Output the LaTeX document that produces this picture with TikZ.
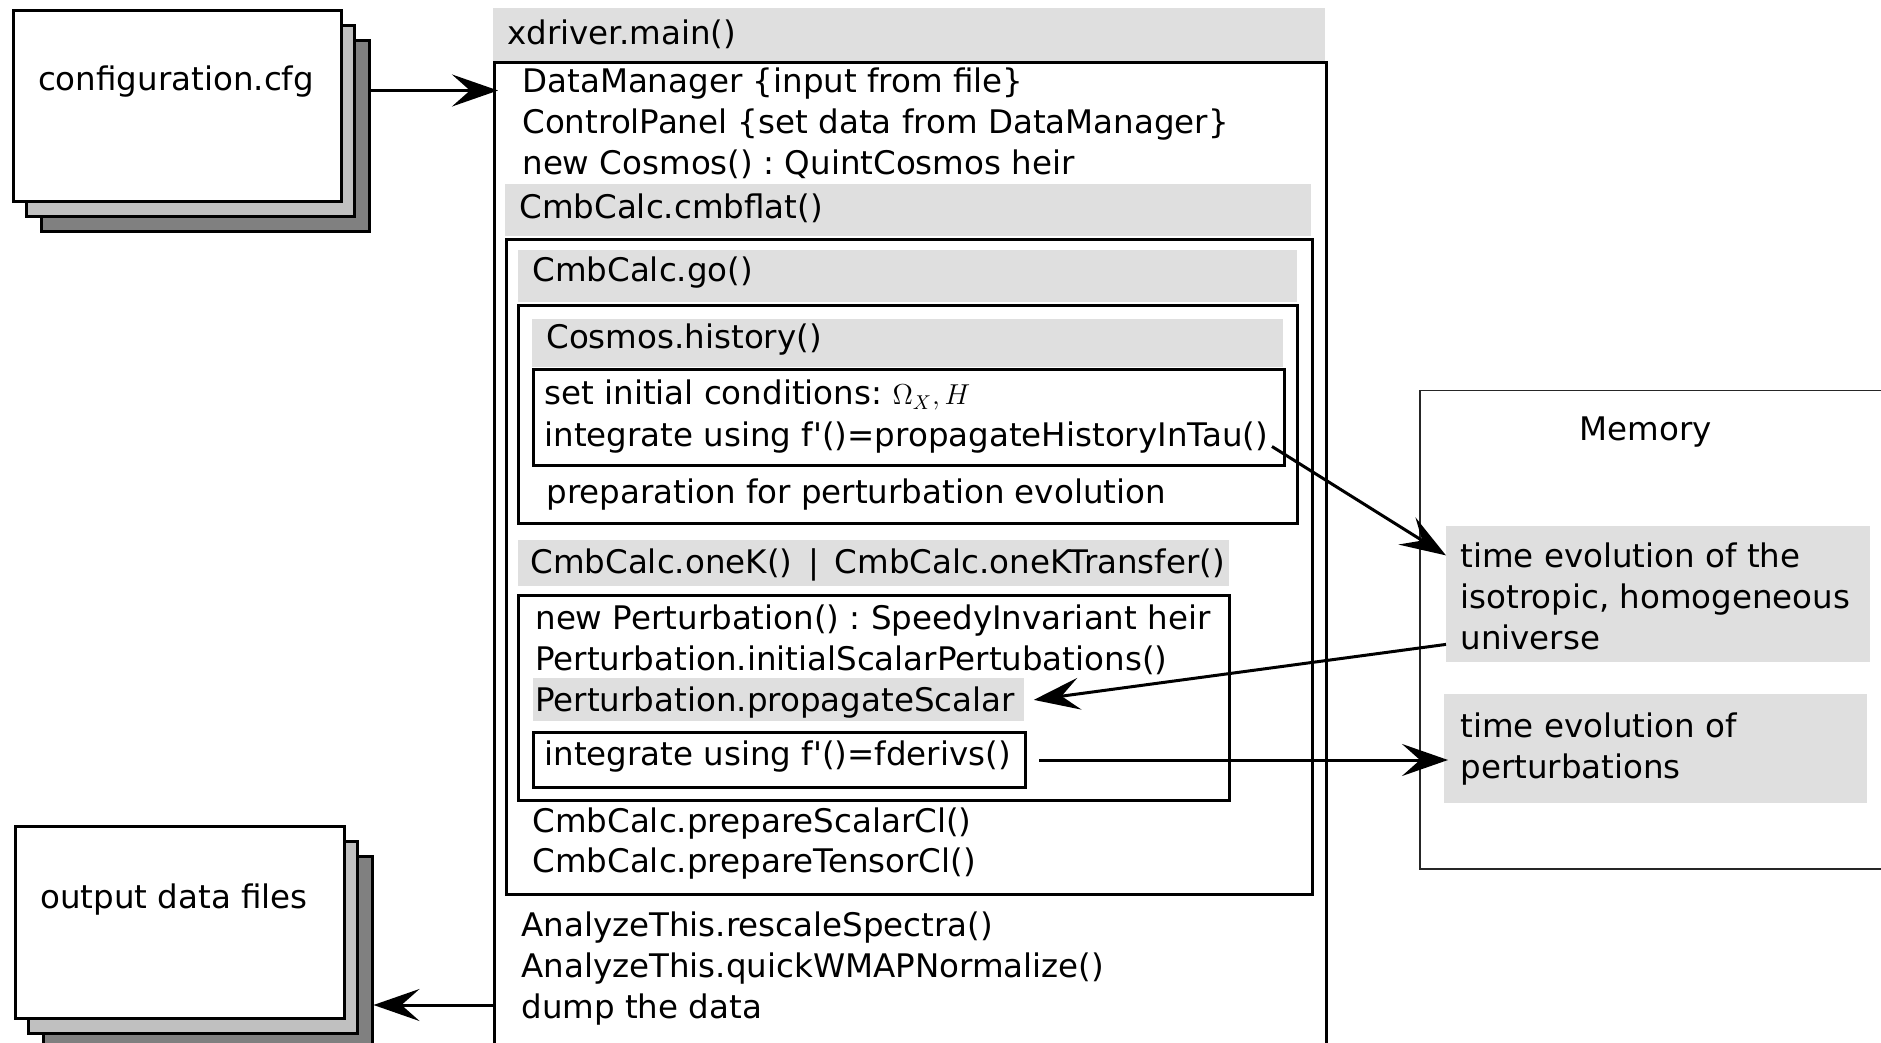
\documentclass[tikz,border=0pt]{standalone}
\usepackage{fontspec}
\setmainfont{DejaVu Sans}
\usetikzlibrary{arrows.meta,shadows}
\definecolor{hdrgray}{RGB}{223,223,223}
\definecolor{shlight}{RGB}{192,192,192}
\definecolor{shdark}{RGB}{128,128,128}
\frenchspacing
\tikzset{
  txt/.style={anchor=base west, inner sep=0pt},
  hdr/.style={fill=hdrgray, anchor=north west, inner sep=0pt},
  frm/.style={draw, line width=1.5pt, anchor=north west, inner sep=0pt},
  doc/.style={frm, fill=white,
    general shadow={fill=shdark, draw, line width=1.5pt, shadow xshift=13.75pt, shadow yshift=-15pt},
    general shadow={fill=shlight, draw, line width=1.5pt, shadow xshift=6.25pt, shadow yshift=-7.5pt}},
  arr/.style={->, line width=1.5pt},
}
\begin{document}
\begin{tikzpicture}[x=0.5pt, y=-0.5pt, >={Stealth[length=23pt, width=16pt, inset=9pt]},
    font=\fontsize{16.25}{20.5}\selectfont]
  \useasboundingbox (0,0) rectangle (1881,1043);
  % Tệp cấu hình và tệp kết quả
  \node[doc, minimum width=164pt, minimum height=95.5pt] (cfg) at (12,9) {};
  \node[anchor=base, inner sep=0pt] (cfgT) at (176,91) {configuration.cfg};
  \node[doc, minimum width=164.5pt, minimum height=96pt] (outf) at (14,825) {};
  \node[anchor=base, inner sep=0pt] (outT) at (174,908) {output data files};
  % xdriver.main()
  \node[hdr, minimum width=416pt, minimum height=26.5pt] (xhdr) at (493,8) {};
  \node[frm, minimum width=416pt, minimum height=519.5pt] (mainbox) at (493,61) {};
  \node[txt] (xT) at (507,45) {xdriver.main()};
  \node[txt] (dm) at (522,93) {DataManager \{input from file\}};
  \node[txt] (cp) at (522,134) {ControlPanel \{set data from DataManager\}};
  \node[txt] (nc) at (522,175) {new Cosmos() : QuintCosmos heir};
  % CmbCalc.cmbflat()
  \node[hdr, minimum width=403pt, minimum height=26pt] (flathdr) at (505,184) {};
  \node[frm, minimum width=403pt, minimum height=327.5pt] (flatbox) at (505,238) {};
  \node[txt] (flatT) at (519,219) {CmbCalc.cmbflat()};
  % CmbCalc.go()
  \node[hdr, minimum width=389.5pt, minimum height=26pt] (gohdr) at (518,250) {};
  \node[frm, minimum width=389.5pt, minimum height=109pt] (gobox) at (517,304) {};
  \node[txt] (goT) at (532,282) {CmbCalc.go()};
  % Cosmos.history()
  \node[hdr, minimum width=375.5pt, minimum height=24pt] (histhdr) at (532,319) {};
  \node[frm, minimum width=375.5pt, minimum height=48pt] (histbox) at (532,368) {};
  \node[txt] (histT) at (546,349) {Cosmos.history()};
  \node[txt] (init) at (544,405) {set initial conditions: {\fontsize{14}{16}\selectfont$\Omega_X,H$}};
  \node[txt] (histInt) at (544,446) {integrate using f\textquotesingle()=propagateHistoryInTau()};
  \node[txt] (prep) at (546,503) {preparation for perturbation evolution};
  % CmbCalc.oneK()
  \node[hdr, minimum width=355.5pt, minimum height=23pt] (onekhdr) at (518,540) {};
  \node[frm, minimum width=355.5pt, minimum height=102.5pt] (onekbox) at (517,594) {};
  \node[txt] (onekT) at (530,573) {CmbCalc.oneK() \,|\, CmbCalc.oneKTransfer()};
  \node[txt] (np) at (535,629) {new Perturbation() : SpeedyInvariant heir};
  \node[txt] (isp) at (535,670) {Perturbation.initialScalarPertubations()};
  \node[hdr, minimum width=245.5pt, minimum height=21.5pt] (prophdr) at (533,678) {};
  \node[txt] (propT) at (535,711) {Perturbation.propagateScalar};
  \node[frm, minimum width=246pt, minimum height=27.5pt] (fderbox) at (532,731) {};
  \node[txt] (fderT) at (544,765) {integrate using f\textquotesingle()=fderivs()};
  \node[txt] (psc) at (532,832) {CmbCalc.prepareScalarCl()};
  \node[txt] (ptc) at (532,872) {CmbCalc.prepareTensorCl()};
  % AnalyzeThis
  \node[txt] (resc) at (521,936) {AnalyzeThis.rescaleSpectra()};
  \node[txt] (wmap) at (521,977) {AnalyzeThis.quickWMAPNormalize()};
  \node[txt] (dump) at (521,1018) {dump the data};
  % Memory
  \node[draw=black!85, line width=0.75pt, anchor=north west, inner sep=0pt,
    minimum width=260pt, minimum height=239pt] (membox) at (1419,390) {};
  \node[anchor=base, inner sep=0pt] (memT) at (1646,441) {Memory};
  \node[hdr, minimum width=212pt, minimum height=68pt] (mem1) at (1446,526) {};
  \node[txt] (mem1a) at (1460,567) {time evolution of the};
  \node[txt] (mem1b) at (1460,608) {isotropic, homogeneous};
  \node[txt] (mem1c) at (1460,649) {universe};
  \node[hdr, minimum width=211.5pt, minimum height=54.5pt] (mem2) at (1444,694) {};
  \node[txt] (mem2a) at (1460,737) {time evolution of};
  \node[txt] (mem2b) at (1460,778) {perturbations};
  % Mũi tên
  \coordinate (cfgout) at ([shift={(27,-15.5)}]cfg.east);
  \draw[arr] (cfgout) -- ([xshift=2.5pt]mainbox.west |- cfgout);
  \draw[arr] ([shift={(-14,29)}]histbox.east) -- ([yshift=19.5pt]mem1.west);
  \draw[arr] ([yshift=-25pt]mem1.west) -- ([xshift=4.5pt]prophdr.east);
  \draw[arr] ([xshift=6pt]fderbox.east) -- ([xshift=2pt]mem2.west |- fderbox.east);
  \coordinate (dumpout) at ([yshift=6.5pt]mainbox.west |- dump.base);
  \draw[arr] (dumpout) -- ([xshift=13.75pt]outf.east |- dumpout);
\end{tikzpicture}
\end{document}
